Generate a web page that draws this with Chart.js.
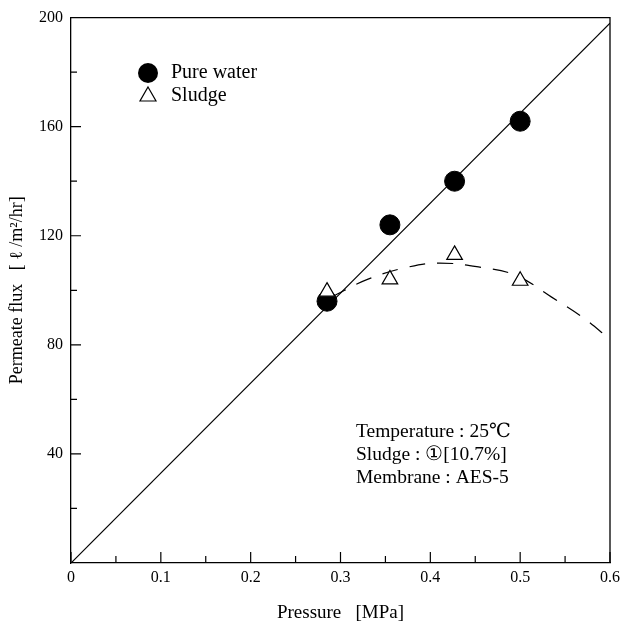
<!DOCTYPE html>
<html>
<head>
<meta charset="utf-8">
<script src="https://cdn.jsdelivr.net/npm/chart.js@4"></script>
<style>
  html, body { margin: 0; padding: 0; background: #fff; }
  #wrap { width: 626px; height: 626px; }
</style>
</head>
<body>
<div id="wrap"><canvas id="myChart"></canvas></div>
<script>
const pressure = [0.285, 0.355, 0.427, 0.5];
const pureWater = [96, 124, 140, 162];
const sludge = [99.5, 104, 113, 103.5];

// straight line through the pure water data
const fitPressure = [0, 0.6];
const fitFlux = [0, 198];

// dashed curve for sludge
const curvePressure = [0.29, 0.33, 0.375, 0.41, 0.455, 0.495, 0.535, 0.57, 0.6];
const curveFlux = [97.5, 104, 108.5, 110, 108.5, 105.5, 97.5, 90, 82];

const xMajor = [0, 0.1, 0.2, 0.3, 0.4, 0.5, 0.6];
const xMinor = [0.05, 0.15, 0.25, 0.35, 0.45, 0.55];
const yMajor = [40, 80, 120, 160];
const yMinor = [20, 60, 100, 140, 180];

const legendLabels = ['Pure water', 'Sludge'];
const noteLines = ['Temperature : 25\u2103', 'Sludge : \u2460[10.7%]', 'Membrane : AES-5'];

const FONT = '"Liberation Serif", "DejaVu Serif", serif';

const toXY = (xs, ys) => xs.map((x, i) => ({ x: x, y: ys[i] }));

const ctx = document.getElementById('myChart');

// ticks drawn inward, top/right frame, legend and note text
const extras = {
  id: 'extras',
  afterDraw(chart) {
    const c = chart.ctx;
    const a = chart.chartArea;
    const xs = chart.scales.x;
    const ys = chart.scales.y;
    c.save();
    c.strokeStyle = '#000';
    c.lineWidth = 1.3;
    c.beginPath();
    c.moveTo(a.left, a.top);
    c.lineTo(a.right, a.top);
    c.lineTo(a.right, a.bottom);
    c.stroke();

    c.lineWidth = 1.2;
    c.beginPath();
    xMajor.forEach(v => {
      const px = xs.getPixelForValue(v);
      c.moveTo(px, a.bottom);
      c.lineTo(px, a.bottom - 11);
    });
    xMinor.forEach(v => {
      const px = xs.getPixelForValue(v);
      c.moveTo(px, a.bottom);
      c.lineTo(px, a.bottom - 7);
    });
    yMajor.forEach(v => {
      const py = ys.getPixelForValue(v);
      c.moveTo(a.left, py);
      c.lineTo(a.left + 10, py);
    });
    yMinor.forEach(v => {
      const py = ys.getPixelForValue(v);
      c.moveTo(a.left, py);
      c.lineTo(a.left + 6, py);
    });
    c.stroke();

    // legend
    c.fillStyle = '#000';
    c.beginPath();
    c.arc(148, 73, 10, 0, Math.PI * 2);
    c.fill();
    c.beginPath();
    c.moveTo(148, 87);
    c.lineTo(156, 101);
    c.lineTo(140, 101);
    c.closePath();
    c.lineWidth = 1.2;
    c.stroke();
    c.font = '20px ' + FONT;
    c.textBaseline = 'middle';
    c.textAlign = 'left';
    c.fillText(legendLabels[0], 171, 73);
    c.fillText(legendLabels[1], 171, 96);

    // conditions
    c.font = '19.5px ' + FONT;
    noteLines.forEach((t, i) => c.fillText(t, 356, 432 + i * 23));
    c.restore();
  }
};

let chart = new Chart(ctx, {
  type: 'scatter',
  data: {
    datasets: [
      {
        label: 'Sludge',
        data: toXY(pressure, sludge),
        pointStyle: 'triangle',
        pointRadius: 9,
        pointBorderWidth: 1.2,
        pointBackgroundColor: '#fff',
        pointBorderColor: '#000',
        showLine: false,
      },
      {
        label: 'Pure water',
        data: toXY(pressure, pureWater),
        pointStyle: 'circle',
        pointRadius: 10,
        pointBackgroundColor: '#000',
        pointBorderColor: '#000',
        showLine: false,
      },
      {
        label: 'fit',
        data: toXY(fitPressure, fitFlux),
        showLine: true,
        borderColor: '#000',
        borderWidth: 1.2,
        pointRadius: 0,
      },
      {
        label: 'sludge curve',
        data: toXY(curvePressure, curveFlux),
        showLine: true,
        borderColor: '#000',
        borderWidth: 1.2,
        borderDash: [16, 12],
        tension: 0.4,
        pointRadius: 0,
      },
    ],
  },
  options: {
    responsive: true,
    maintainAspectRatio: false,
    animation: false,
    layout: {
      padding: { left: 0, top: 16, right: 16, bottom: 0 },
    },
    plugins: {
      legend: { display: false },
      tooltip: { enabled: false },
    },
    scales: {
      x: {
        type: 'linear',
        min: 0,
        max: 0.6,
        afterFit: s => { s.height = 63; },
        grid: { display: false, drawTicks: false },
        border: { display: true, color: '#000', width: 1.3 },
        ticks: {
          stepSize: 0.1,
          padding: 5,
          color: '#000',
          font: { family: FONT, size: 16 },
          callback: v => (v === 0 ? '0' : v.toFixed(1)),
        },
        title: {
          display: true,
          text: 'Pressure   [MPa]',
          color: '#000',
          font: { family: FONT, size: 19 },
          padding: { top: 0, bottom: 2 },
        },
      },
      y: {
        min: 0,
        max: 200,
        afterFit: s => { s.width = 71; },
        grid: { display: false, drawTicks: false },
        border: { display: true, color: '#000', width: 1.3 },
        ticks: {
          stepSize: 40,
          padding: 8,
          color: '#000',
          font: { family: FONT, size: 16 },
          callback: v => (v === 0 ? '' : v),
        },
        title: {
          display: true,
          text: 'Permeate flux   [ \u2113 /m\u00b2/hr]',
          color: '#000',
          font: { family: FONT, size: 18 },
          padding: { top: 6, bottom: 0 },
        },
      },
    },
  },
  plugins: [extras],
});
</script>
</body>
</html>
